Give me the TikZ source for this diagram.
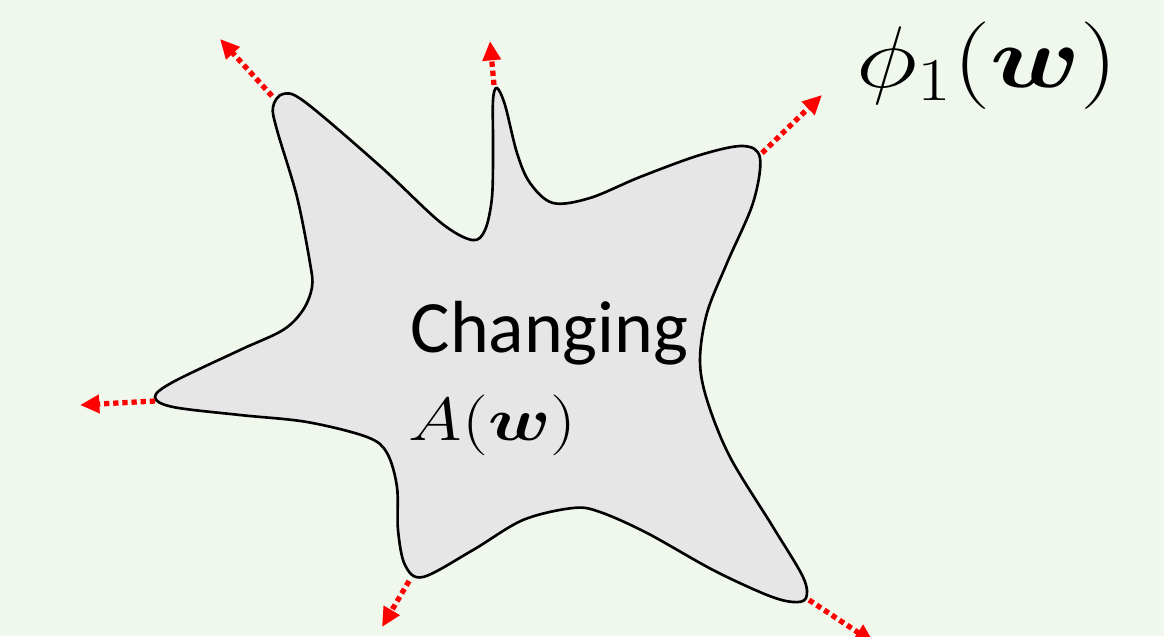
\documentclass[tikz,border=0pt]{standalone}
\usepackage{fontspec}
\setmainfont{Carlito}
\usepackage{bm}
\usepackage{graphicx}
\usetikzlibrary{arrows.meta}
\definecolor{bggreen}{RGB}{240,247,236}
\definecolor{blobgray}{RGB}{230,230,230}
\tikzset{
  outarrow/.style={red,line width=1.5pt,dash pattern=on 1.5pt off 1.1pt,
    -{Triangle[length=5.5pt,width=5pt]}},
  label/.style={inner sep=0pt,anchor=base west},
}

\begin{document}
\begin{tikzpicture}[x=0.01cm,y=-0.01cm]
  % Hintergrund
  \fill[bggreen] (0,0) rectangle (1164,636);
  \useasboundingbox (0,0) rectangle (1164,636);
  \clip (0,0) rectangle (1164,636);
  % Gebiet A(w)
  \draw[fill=blobgray,line width=0.75pt] plot[smooth cycle,tension=0.55] coordinates {
    (273,107) (283,94) (305,102) (380,166) (440,222) (472,240)
    (485,230) (492,197) (493,147) (493,100) (497,88) (505,105) (517,153)
    (530,183) (553,203) (590,198) (640,177) (700,155) (743,146) (760,158)
    (753,203) (727,263) (707,313) (700,360) (707,400) (730,457) (773,527)
    (803,577) (806,598) (793,602) (767,595) (713,570) (647,533) (600,512)
    (573,508) (523,520) (473,550) (423,577) (405,565) (398,530) (397,487)
    (387,453) (367,437) (307,422) (240,415) (173,407) (155,397) (173,382)
    (240,350) (283,330) (303,310) (312,287) (310,263) (297,197) (277,130)};
  % Spitzen und Pfeilenden
  \coordinate (tl0) at (272,96);  \coordinate (tl1) at (220,39);
  \coordinate (tm0) at (494,85);  \coordinate (tm1) at (490,41);
  \coordinate (tr0) at (762,153); \coordinate (tr1) at (822,95);
  \coordinate (ml0) at (155,401); \coordinate (ml1) at (80,405);
  \coordinate (bl0) at (409,581); \coordinate (bl1) at (382,627);
  \coordinate (br0) at (809,600); \coordinate (br1) at (874,643);
  \foreach \t in {tl,tm,tr,ml,bl,br}
    \draw[outarrow] (\t0) -- (\t1);
  % Beschriftung
  \node[label,font=\fontsize{21}{25}\selectfont] (changing) at (410,352) {Changing};
  \node[label,font=\fontsize{19}{23}\selectfont] (aw) at (408,440)
    {\scalebox{1.2}[1]{$A(\bm{w})$}};
  \node[label,font=\fontsize{23}{28}\selectfont] (phi) at (856,87)
    {\scalebox{1.2}[1]{$\phi_1(\bm{w})$}};
\end{tikzpicture}
\end{document}
